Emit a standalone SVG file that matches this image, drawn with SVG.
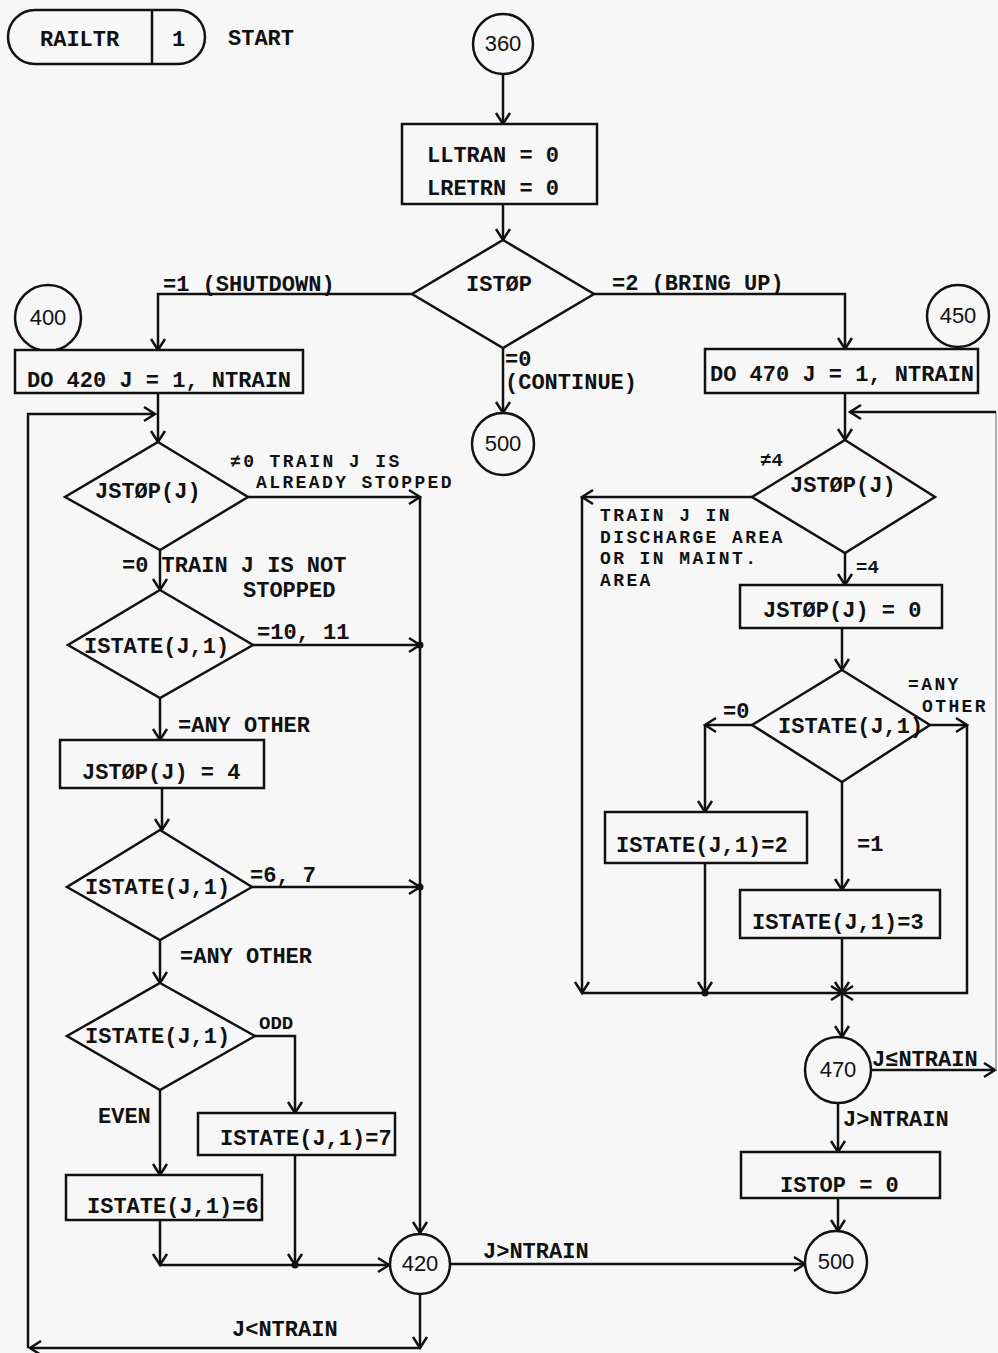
<svg xmlns="http://www.w3.org/2000/svg" width="998" height="1353" viewBox="0 0 998 1353">
<style>
.s{fill:none;stroke:#111;stroke-width:2.5}
.n{fill:#f7f7f7;stroke:#111;stroke-width:2.5}
.t{font-family:"Liberation Mono","DejaVu Sans Mono",monospace;font-size:22px;font-weight:bold;fill:#111}
.m{text-anchor:middle}
.sm{font-size:19px}
.k{font-size:18px;letter-spacing:2.4px}
.c{font-family:"Liberation Sans","DejaVu Sans",sans-serif;font-weight:normal}
</style>
<defs>
<marker id="a" markerUnits="userSpaceOnUse" markerWidth="18" markerHeight="18" viewBox="-14 -9 16 18" refX="0" refY="0" orient="auto">
<path d="M-11,-7 L0,0 L-11,7" fill="none" stroke="#111" stroke-width="2.5"/>
</marker>
</defs>
<rect width="998" height="1353" fill="#f7f7f7"/>

<g id="connectors" class="s" marker-end="url(#a)">
<path d="M503,74 V124"/>
<path d="M503,204 V240"/>
<path d="M412,294 H158 V350"/>
<path d="M594,294 H845 V349"/>
<path d="M503,348 V413"/>
<path d="M158,393 V442"/>
<path d="M420,1295 V1348"/>
<path d="M420,1348 H30"/>
<path d="M28,1348 V414 H155"/>
<path d="M248,497 H420"/>
<path d="M420,497 V1233"/>
<path d="M160,550 V590"/>
<path d="M253,645 H420"/>
<path d="M160,698 V740"/>
<path d="M162,788 V830"/>
<path d="M252,887 H420"/>
<path d="M160,940 V983"/>
<path d="M255,1036 H295 V1113"/>
<path d="M160,1090 V1175"/>
<path d="M160,1220 V1265"/>
<path d="M160,1265 H389"/>
<path d="M295,1155 V1265"/>
<path d="M451,1264 H805"/>
<path d="M845,393 V440"/>
<path d="M871,1070 H995"/>
<path d="M996,1070 V412" stroke="#999" stroke-width="1.5" marker-end="none"/>
<path d="M996,412 H850"/>
<path d="M752,497 H582"/>
<path d="M582,497 V993"/>
<path d="M845,553 V585"/>
<path d="M842,628 V670"/>
<path d="M752,725 H705"/>
<path d="M705,725 V812"/>
<path d="M930,725 H967"/>
<path d="M967,725 V993 H842"/>
<path d="M842,782 V890"/>
<path d="M705,863 V993"/>
<path d="M582,993 H842"/>
<path d="M842,938 V993"/>
<path d="M842,993 V1037"/>
<path d="M838,1103 V1152"/>
<path d="M838,1198 V1231"/>
</g>
<g id="junctions" fill="#111">
<circle cx="420" cy="645" r="3.5"/>
<circle cx="420" cy="887" r="3.5"/>
<circle cx="295" cy="1265" r="3.5"/>
<circle cx="705" cy="993" r="3.5"/>
</g>

<g id="start">
<rect class="n" x="8" y="10" width="197" height="54" rx="27"/>
<line class="s" x1="152" y1="10" x2="152" y2="64"/>
<text class="t" x="40" y="46">RAILTR</text>
<text class="t" x="172" y="46">1</text>
<text class="t" x="228" y="45">START</text>
</g>
<g id="c360"><circle class="n" cx="503" cy="44" r="30"/><text class="t c m" x="503" y="51">360</text></g>
<g id="init"><rect class="n" x="402" y="124" width="195" height="80"/>
<text class="t" x="427" y="162">LLTRAN = 0</text>
<text class="t" x="427" y="195">LRETRN = 0</text></g>
<g id="istop"><path class="n" d="M503,240 L594,294 L503,348 L412,294 Z"/>
<text class="t" x="466" y="291">ISTØP</text>
<text class="t" x="163" y="291">=1 (SHUTDOWN)</text>
<text class="t" x="612" y="290">=2 (BRING UP)</text>
<text class="t" x="505" y="366">=0</text>
<text class="t" x="505" y="389">(CONTINUE)</text></g>
<g id="c500a"><circle class="n" cx="503" cy="444" r="31"/><text class="t c m" x="503" y="451">500</text></g>
<g id="c400"><circle class="n" cx="48" cy="318" r="33"/><text class="t c m" x="48" y="325">400</text></g>
<g id="c450"><circle class="n" cx="958" cy="316" r="31"/><text class="t c m" x="958" y="323">450</text></g>
<g id="do420"><rect class="n" x="15" y="350" width="288" height="43"/>
<text class="t" x="27" y="387">DO 420 J = 1, NTRAIN</text></g>
<g id="do470"><rect class="n" x="705" y="349" width="273" height="44"/>
<text class="t" x="710" y="381">DO 470 J = 1, NTRAIN</text></g>

<g id="ljstop"><path class="n" d="M158,442 L248,497 L160,550 L65,497 Z"/>
<text class="t" x="95" y="498">JSTØP(J)</text>
<text class="t k" x="230" y="467">≠0  TRAIN J IS</text>
<text class="t k" x="256" y="488">ALREADY STOPPED</text>
<text class="t" x="122" y="572">=0 TRAIN J IS NOT</text>
<text class="t" x="243" y="597">STOPPED</text></g>
<g id="listate1"><path class="n" d="M160,590 L253,645 L160,698 L68,645 Z"/>
<text class="t" x="84" y="653">ISTATE(J,1)</text>
<text class="t" x="257" y="639">=10, 11</text>
<text class="t" x="178" y="732">=ANY OTHER</text></g>
<g id="ljstop4"><rect class="n" x="60" y="740" width="204" height="48"/>
<text class="t" x="82" y="779">JSTØP(J) = 4</text></g>
<g id="listate2"><path class="n" d="M160,830 L252,887 L160,940 L67,887 Z"/>
<text class="t" x="85" y="894">ISTATE(J,1)</text>
<text class="t" x="250" y="882">=6, 7</text>
<text class="t" x="180" y="963">=ANY OTHER</text></g>
<g id="listate3"><path class="n" d="M160,983 L255,1036 L160,1090 L67,1036 Z"/>
<text class="t" x="85" y="1043">ISTATE(J,1)</text>
<text class="t sm" x="259" y="1029">ODD</text>
<text class="t" x="98" y="1123">EVEN</text></g>
<g id="lset7"><rect class="n" x="198" y="1113" width="197" height="42"/>
<text class="t" x="220" y="1145">ISTATE(J,1)=7</text></g>
<g id="lset6"><rect class="n" x="66" y="1175" width="196" height="45"/>
<text class="t" x="87" y="1213">ISTATE(J,1)=6</text></g>
<g id="c420"><circle class="n" cx="420" cy="1264" r="30"/><text class="t c m" x="420" y="1271">420</text>
<text class="t" x="483" y="1258">J&gt;NTRAIN</text>
<text class="t" x="232" y="1336">J&lt;NTRAIN</text></g>
<g id="c500b"><circle class="n" cx="836" cy="1262" r="31"/><text class="t c m" x="836" y="1269">500</text></g>

<g id="rjstop"><path class="n" d="M845,440 L935,497 L845,553 L752,497 Z"/>
<text class="t" x="790" y="492">JSTØP(J)</text>
<text class="t sm" x="760" y="466">≠4</text>
<text class="t k" x="600" y="521">TRAIN J IN</text>
<text class="t k" x="600" y="543">DISCHARGE AREA</text>
<text class="t k" x="600" y="564">OR IN MAINT.</text>
<text class="t k" x="600" y="586">AREA</text>
<text class="t sm" x="856" y="573">=4</text></g>
<g id="rjstop0"><rect class="n" x="740" y="585" width="202" height="43"/>
<text class="t" x="763" y="617">JSTØP(J) = 0</text></g>
<g id="ristate"><path class="n" d="M842,670 L930,725 L842,782 L752,725 Z"/>
<text class="t" x="778" y="733">ISTATE(J,1)</text>
<text class="t k" x="908" y="690">=ANY</text>
<text class="t k" x="922" y="712">OTHER</text>
<text class="t" x="723" y="718">=0</text>
<text class="t" x="857" y="851">=1</text></g>
<g id="rset2"><rect class="n" x="605" y="812" width="202" height="51"/>
<text class="t" x="616" y="852">ISTATE(J,1)=2</text></g>
<g id="rset3"><rect class="n" x="740" y="890" width="200" height="48"/>
<text class="t" x="752" y="929">ISTATE(J,1)=3</text></g>
<g id="c470"><circle class="n" cx="838" cy="1070" r="33"/><text class="t c m" x="838" y="1077">470</text>
<text class="t" x="872" y="1066">J≤NTRAIN</text>
<text class="t" x="843" y="1126">J&gt;NTRAIN</text></g>
<g id="ristop"><rect class="n" x="741" y="1152" width="199" height="46"/>
<text class="t" x="780" y="1192">ISTOP = 0</text></g>
</svg>
